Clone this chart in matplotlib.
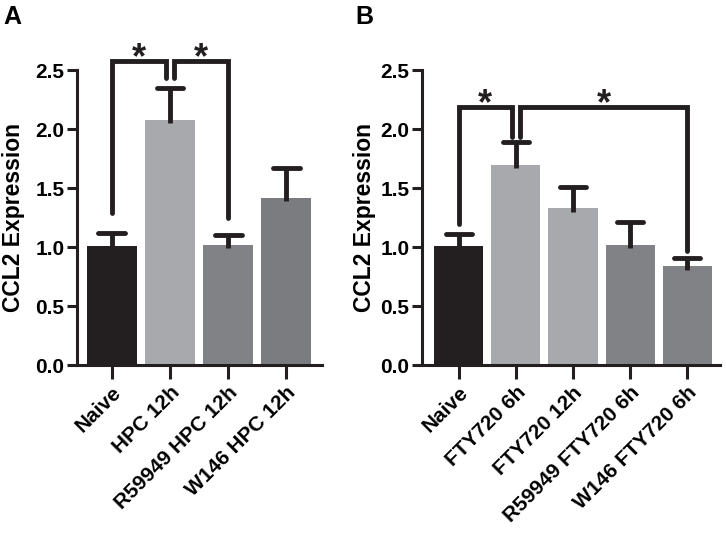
import matplotlib
matplotlib.use('Agg')
import matplotlib.pyplot as plt

plt.rcParams['font.family'] = ['Liberation Sans', 'DejaVu Sans']
plt.rcParams['font.weight'] = 'bold'

labels_a = ['Naive', 'HPC 12h', 'R59949 HPC 12h', 'W146 HPC 12h']
means_a = [1.01, 2.08, 1.02, 1.42]
sem_a = [0.11, 0.27, 0.08, 0.25]
colors_a = ['#231f20', '#a7a9ac', '#808285', '#7a7c7f']

labels_b = ['Naive', 'FTY720 6h', 'FTY720 12h', 'R59949 FTY720 6h', 'W146 FTY720 6h']
means_b = [1.01, 1.70, 1.33, 1.02, 0.84]
sem_b = [0.10, 0.19, 0.18, 0.19, 0.07]
colors_b = ['#231f20', '#a7a9ac', '#a7a9ac', '#808285', '#808285']

# (left bar, right bar, left foot, right foot, top, x nudge) for each bracket
brackets_a = [(0, 1, 1.29, 2.43, 2.58, -0.07), (1, 2, 2.43, 1.25, 2.58, 0.07)]
brackets_b = [(0, 1, 1.20, 1.93, 2.19, -0.07), (1, 4, 1.93, 0.97, 2.19, 0.07)]

DARK = '#231f20'


def draw_panel(ax, labels, means, sem, colors, brackets, xlim, label_x):
    x = list(range(len(labels)))
    ax.bar(x, means, width=0.86, color=colors, zorder=1)
    # error bars: upper half only, stem pokes a little into the bar
    lo = [m - 0.03 for m in means]
    hi = [m + s for m, s in zip(means, sem)]
    ax.vlines(x, lo, hi, color=DARK, lw=3.5, zorder=2)
    ax.hlines(hi, [i - 0.23 for i in x], [i + 0.23 for i in x], color=DARK,
              lw=3.5, zorder=2, capstyle='round')
    for i, j, yl, yr, top, dx in brackets:
        xl = i
        xr = j
        if dx < 0:
            xr = j + dx
        else:
            xl = i + dx
        ax.plot([xl, xl, xr, xr], [yl, top, top, yr], color=DARK, lw=3.5,
                clip_on=False, solid_joinstyle='miter', solid_capstyle='round')
        ax.text((xl + xr) / 2, top - 0.13, '*', ha='center', va='bottom',
                fontsize=26, color=DARK)
    ax.set_xlim(*xlim)
    ax.set_ylim(0, 2.5)
    ax.set_yticks([0, 0.5, 1.0, 1.5, 2.0, 2.5])
    ax.set_yticklabels(['0.0', '0.5', '1.0', '1.5', '2.0', '2.5'])
    ax.set_xticks(x)
    ax.set_xticklabels(labels, rotation=45, ha='right', rotation_mode='anchor')
    ax.spines['top'].set_visible(False)
    ax.spines['right'].set_visible(False)
    for s in ['left', 'bottom']:
        ax.spines[s].set_linewidth(2.2)
        ax.spines[s].set_color(DARK)
    ax.tick_params(width=2.2, length=7, labelsize=15, color=DARK, pad=2)
    ax.tick_params(axis='x', length=10, labelsize=15, pad=3)
    ax.set_ylabel('CCL2 Expression', fontsize=16.5, fontweight='bold')
    ax.yaxis.set_label_coords(label_x, 0.5)


fig = plt.figure(figsize=(7.26, 5.36), dpi=100)
ax_a = fig.add_axes([0.106, 0.319, 0.338, 0.55])
ax_b = fig.add_axes([0.581, 0.319, 0.411, 0.55])

draw_panel(ax_a, labels_a, means_a, sem_a, colors_a, brackets_a, (-0.6, 3.62), -0.21)
draw_panel(ax_b, labels_b, means_b, sem_b, colors_b, brackets_b, (-0.65, 4.58), -0.155)

fig.text(0.004, 0.99, 'A', fontsize=18, fontweight='bold', va='top')
fig.text(0.489, 0.99, 'B', fontsize=18, fontweight='bold', va='top')

fig.savefig('out.png', dpi=100)
